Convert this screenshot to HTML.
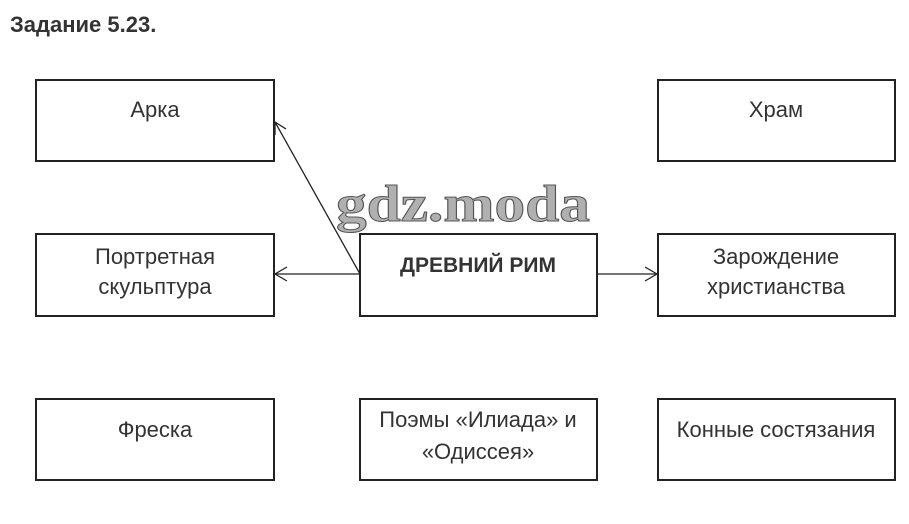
<!DOCTYPE html>
<html><head><meta charset="utf-8"><style>
html,body{margin:0;padding:0;background:#fff;width:909px;height:524px;overflow:hidden}
svg{display:block}
text{font-family:"Liberation Sans",sans-serif;fill:#333}
</style></head><body>
<svg width="909" height="524" viewBox="0 0 909 524">
<text x="10" y="32" font-size="22" font-weight="bold">Задание 5.23.</text>
<g fill="#fff" stroke="#222" stroke-width="2">
<rect x="36" y="80" width="238" height="81"/>
<rect x="658" y="80" width="237" height="81"/>
<rect x="36" y="234" width="238" height="82"/>
<rect x="360" y="234" width="237" height="82"/>
<rect x="658" y="234" width="237" height="82"/>
<rect x="36" y="399" width="238" height="81"/>
<rect x="360" y="399" width="237" height="81"/>
<rect x="658" y="399" width="237" height="81"/>
</g>
<g stroke="#222" stroke-width="1.3" fill="none">
<line x1="360" y1="274" x2="275" y2="274"/>
<polyline points="287,267 275,274 287,281"/>
<line x1="360" y1="274" x2="275" y2="122"/>
<polyline points="275,135 275,122 286,129"/>
<line x1="597" y1="274" x2="657" y2="274"/>
<polyline points="645,267 657,274 645,281"/>
</g>
<text x="463" y="221" font-size="52" font-weight="bold" text-anchor="middle" textLength="254" lengthAdjust="spacingAndGlyphs" style="font-family:'Liberation Serif',serif;fill:#b0b0b0;stroke:#555;stroke-width:1">gdz.moda</text>
<g font-size="22" text-anchor="middle">
<text x="155" y="117">Арка</text>
<text x="776" y="117">Храм</text>
<text x="155" y="264">Портретная</text>
<text x="155" y="294">скульптура</text>
<text x="478" y="272" font-weight="bold" font-size="21">ДРЕВНИЙ РИМ</text>
<text x="776" y="264">Зарождение</text>
<text x="776" y="294">христианства</text>
<text x="155" y="437">Фреска</text>
<text x="478" y="427">Поэмы «Илиада» и</text>
<text x="478" y="459">«Одиссея»</text>
<text x="776" y="437">Конные состязания</text>
</g>
</svg>
</body></html>
